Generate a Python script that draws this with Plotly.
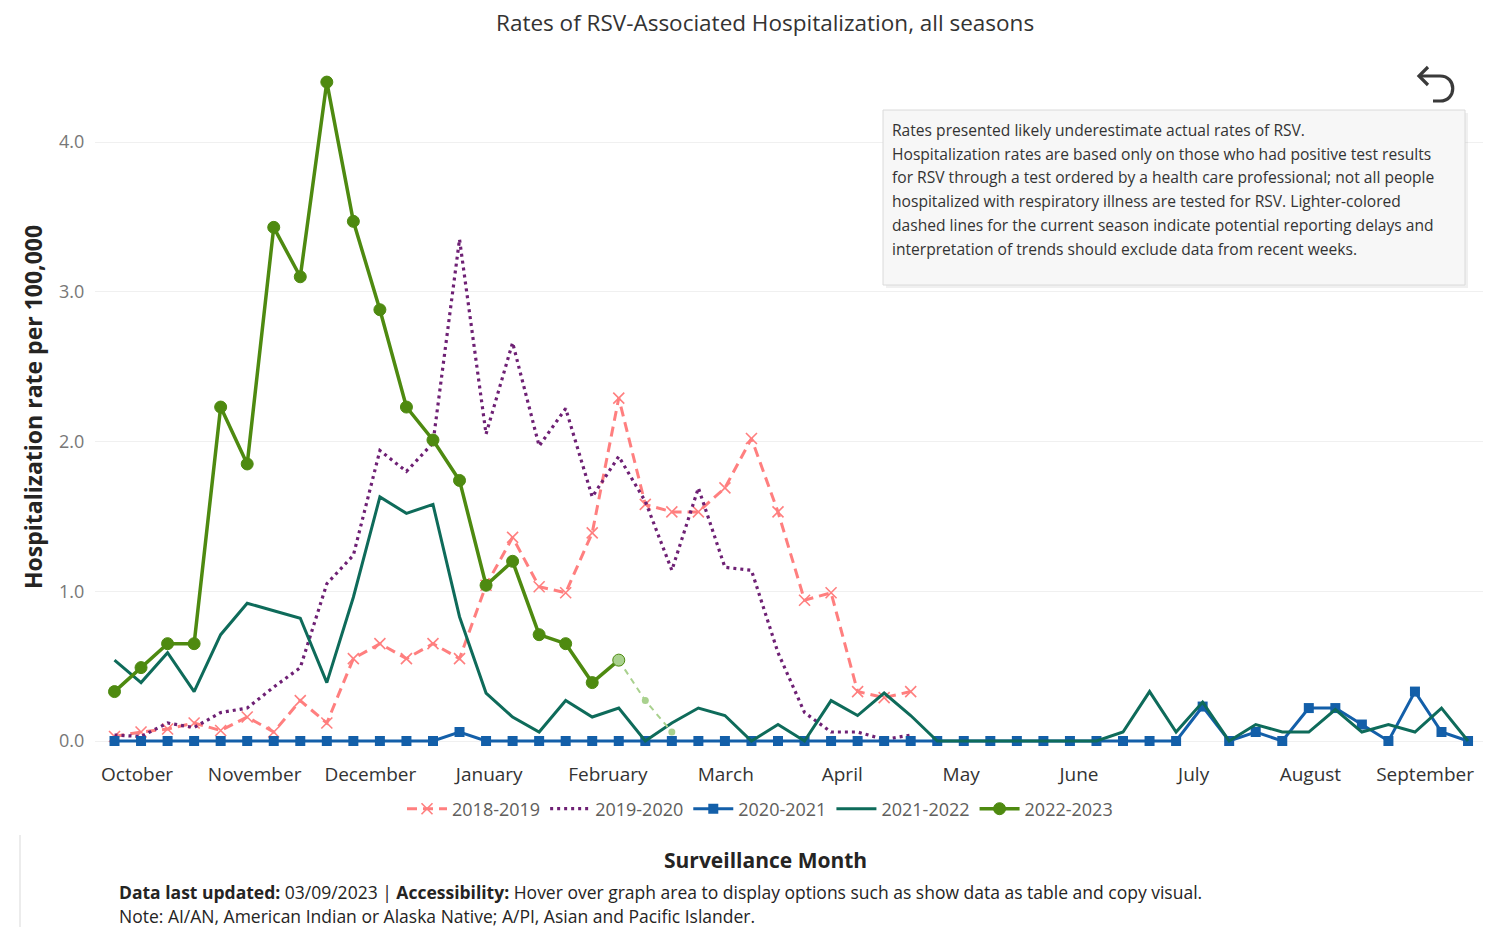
import plotly.graph_objects as go

# ---------------- data ----------------
weeks = list(range(52))
month_labels = ["October", "November", "December", "January", "February", "March",
                "April", "May", "June", "July", "August", "September"]
month_tick_week = [0.85, 5.28, 9.64, 14.12, 18.59, 23.03, 27.42, 31.9, 36.34, 40.66, 45.06, 49.38]
y_ticks = [0, 1, 2, 3, 4]
y_tick_labels = ["0.0", "1.0", "2.0", "3.0", "4.0"]

rate_2018_2019 = [0.03, 0.06, 0.08, 0.12, 0.07, 0.16, 0.06, 0.27, 0.12, 0.55,
                  0.65, 0.55, 0.65, 0.55, 1.04, 1.36, 1.03, 0.99, 1.39, 2.29,
                  1.58, 1.53, 1.53, 1.69, 2.02, 1.53, 0.94, 0.99, 0.33, 0.29,
                  0.33]
rate_2019_2020 = [0.04, 0.03, 0.12, 0.09, 0.19, 0.22, 0.36, 0.49, 1.05, 1.24,
                  1.94, 1.80, 1.99, 3.35, 2.05, 2.66, 1.97, 2.22, 1.63, 1.90,
                  1.60, 1.14, 1.69, 1.16, 1.14, 0.59, 0.19, 0.06, 0.06, 0.01,
                  0.04]
rate_2020_2021 = [0, 0, 0, 0, 0, 0, 0, 0, 0, 0,
                  0, 0, 0, 0.06, 0, 0, 0, 0, 0, 0,
                  0, 0, 0, 0, 0, 0, 0, 0, 0, 0,
                  0, 0, 0, 0, 0, 0, 0, 0, 0, 0,
                  0, 0.23, 0, 0.06, 0, 0.22, 0.22, 0.11, 0, 0.33,
                  0.06, 0]
rate_2021_2022 = [0.54, 0.39, 0.59, 0.33, 0.71, 0.92, 0.87, 0.82, 0.39, 0.96,
                  1.63, 1.52, 1.58, 0.83, 0.32, 0.16, 0.06, 0.27, 0.16, 0.22,
                  0.00, 0.12, 0.22, 0.17, 0.00, 0.11, 0.00, 0.27, 0.17, 0.32,
                  0.17, 0.00, 0.00, 0.00, 0.00, 0.00, 0.00, 0.00, 0.06, 0.33,
                  0.06, 0.26, 0.00, 0.11, 0.06, 0.06, 0.21, 0.06, 0.11, 0.06,
                  0.22, 0.00]
rate_2022_2023 = [0.33, 0.49, 0.65, 0.65, 2.23, 1.85, 3.43, 3.10, 4.40, 3.47,
                  2.88, 2.23, 2.01, 1.74, 1.04, 1.20, 0.71, 0.65, 0.39, 0.54]
# preliminary (reporting delay) weeks of the current season, starting at week 19
prelim_start_week = 19
rate_2022_2023_prelim = [0.54, 0.27, 0.06]

# ---------------- styling ----------------
FONT = "Open Sans"
C_1819 = "#FF7F7F"
C_1920 = "#6E2074"
C_2021 = "#135FA9"
C_2122 = "#0E6B5A"
C_2223 = "#4E8A10"
C_2223_LIGHT = "#A9D18E"

OFF = 8  # page body margin
W, H = 1491 - OFF, 927 - OFF
ML, MT = 95 - OFF, 52 - OFF
MR = W - (1489 - OFF)
MB = H - (750 - OFF)
PW, PH = W - ML - MR, H - MT - MB


def px(x):
    return (x - OFF - ML) / PW


def py(y):
    return (H - MB - (y - OFF)) / PH


fig = go.Figure()

fig.add_trace(go.Scatter(
    x=weeks[:len(rate_2018_2019)], y=rate_2018_2019, name="2018-2019",
    mode="lines+markers",
    line=dict(color=C_1819, width=3, dash="10px,6px"),
    marker=dict(symbol="x-thin-open", size=11, color=C_1819, line=dict(color=C_1819, width=1.6)),
))
fig.add_trace(go.Scatter(
    x=weeks[:len(rate_2019_2020)], y=rate_2019_2020, name="2019-2020",
    mode="lines",
    line=dict(color=C_1920, width=3.2, dash="3px,4px"),
))
fig.add_trace(go.Scatter(
    x=weeks, y=rate_2020_2021, name="2020-2021",
    mode="lines+markers",
    line=dict(color=C_2021, width=3),
    marker=dict(symbol="square", size=10, color=C_2021),
))
fig.add_trace(go.Scatter(
    x=weeks, y=rate_2021_2022, name="2021-2022",
    mode="lines",
    line=dict(color=C_2122, width=3),
))
prelim_weeks = weeks[prelim_start_week:prelim_start_week + len(rate_2022_2023_prelim)]
fig.add_trace(go.Scatter(
    x=prelim_weeks, y=rate_2022_2023_prelim, name="2022-2023 (preliminary)",
    mode="lines+markers", showlegend=False,
    line=dict(color=C_2223_LIGHT, width=2, dash="6px,5px"),
    marker=dict(symbol="circle", size=7, color=C_2223_LIGHT),
))
marker_colors = [C_2223] * (len(rate_2022_2023) - 1) + [C_2223_LIGHT]
fig.add_trace(go.Scatter(
    x=weeks[:len(rate_2022_2023)], y=rate_2022_2023, name="2022-2023",
    mode="lines+markers",
    line=dict(color=C_2223, width=3.5),
    marker=dict(symbol="circle", size=12, color=marker_colors, line=dict(color=C_2223, width=1)),
))

shapes = []
# note box (shadow + box)
shapes.append(dict(type="rect", xref="paper", yref="paper",
                   x0=px(886), x1=px(1468), y0=py(113), y1=py(288),
                   fillcolor="rgba(0,0,0,0.06)", line=dict(width=0), layer="above"))
shapes.append(dict(type="rect", xref="paper", yref="paper",
                   x0=px(883), x1=px(1465), y0=py(110), y1=py(285),
                   fillcolor="#F7F7F7", line=dict(color="#DADADA", width=1), layer="above"))


def P(x, y):
    return f"{px(x):.5f},{py(y):.5f}"


# undo icon
icon_path = f"M {P(1420, 76)} L {P(1440, 76)} C {P(1457, 76)} {P(1457, 101)} {P(1440, 101)} L {P(1433, 101)}"
shapes.append(dict(type="path", xref="paper", yref="paper", path=icon_path,
                   line=dict(color="#3A3A3A", width=3.2)))
arrow_path = f"M {P(1428, 67)} L {P(1419, 76)} L {P(1428, 85)}"
shapes.append(dict(type="path", xref="paper", yref="paper", path=arrow_path,
                   line=dict(color="#3A3A3A", width=3.2)))
# faint panel edge
shapes.append(dict(type="line", xref="paper", yref="paper",
                   x0=px(20), x1=px(20), y0=py(835), y1=py(927),
                   line=dict(color="#ECECEC", width=2)))

annotations = []
note_lines = [
    "Rates presented likely underestimate actual rates of RSV.",
    "Hospitalization rates are based only on those who had positive test results",
    "for RSV through a test ordered by a health care professional; not all people",
    "hospitalized with respiratory illness are tested for RSV. Lighter-colored",
    "dashed lines for the current season indicate potential reporting delays and",
    "interpretation of trends should exclude data from recent weeks.",
]
for k, line in enumerate(note_lines):
    annotations.append(dict(text=line, xref="paper", yref="paper",
                            x=px(890), y=py(130 + 23.7 * k), xanchor="left", yanchor="middle",
                            showarrow=False, font=dict(family=FONT, size=15.6, color="#333333")))

annotations.append(dict(text="<b>Hospitalization rate per 100,000</b>", xref="paper", yref="paper",
                        x=px(33), y=py(407), xanchor="center", yanchor="middle", textangle=-90,
                        showarrow=False, font=dict(family=FONT, size=23, color="#252423")))
annotations.append(dict(text="<b>Surveillance Month</b>", xref="paper", yref="paper",
                        x=px(765), y=py(860), xanchor="center", yanchor="middle",
                        showarrow=False, font=dict(family=FONT, size=21, color="#252423")))
annotations.append(dict(text="<b>Data last updated:</b> 03/09/2023 | <b>Accessibility:</b> Hover over graph area to display options such as show data as table and copy visual.",
                        xref="paper", yref="paper", x=px(117), y=py(892), xanchor="left", yanchor="middle",
                        showarrow=False, font=dict(family=FONT, size=17.5, color="#252423")))
annotations.append(dict(text="Note: AI/AN, American Indian or Alaska Native; A/PI, Asian and Pacific Islander.",
                        xref="paper", yref="paper", x=px(117), y=py(916), xanchor="left", yanchor="middle",
                        showarrow=False, font=dict(family=FONT, size=17.5, color="#252423")))
# chart title
annotations.append(dict(text="Rates of RSV-Associated Hospitalization, all seasons",
                        xref="paper", yref="paper", x=px(765), y=py(23), xanchor="center", yanchor="middle",
                        borderpad=0, showarrow=False, font=dict(family=FONT, size=22.5, color="#333333")))

x_unit = 26.54
x_r0 = -(114.5 - 95) / x_unit
y_unit = 149.75
y_r0 = -(750 - 741) / y_unit

fig.update_layout(
    width=W, height=H,
    margin=dict(l=ML, r=MR, t=MT, b=MB),
    paper_bgcolor="white", plot_bgcolor="white",
    font=dict(family=FONT),
    xaxis=dict(range=[x_r0, x_r0 + PW / x_unit], tickvals=month_tick_week, ticktext=month_labels,
               showgrid=False, zeroline=False, showline=False,
               ticks="outside", ticklen=7, tickcolor="rgba(0,0,0,0)",
               tickfont=dict(family=FONT, size=19, color="#333333")),
    yaxis=dict(range=[y_r0, y_r0 + PH / y_unit], tickvals=y_ticks, ticktext=y_tick_labels,
               showgrid=True, gridcolor="#F0F0F0", gridwidth=1, zeroline=False, showline=False,
               ticks="outside", ticklen=6, tickcolor="rgba(0,0,0,0)",
               tickfont=dict(family=FONT, size=18, color="#777777")),
    legend=dict(orientation="h", x=px(760), xanchor="center", y=py(809), yanchor="middle",
                font=dict(family=FONT, size=18, color="#605E5C"), itemwidth=40,
                bgcolor="rgba(0,0,0,0)", traceorder="normal"),
    shapes=shapes,
    annotations=annotations,
    hovermode="x",
)

fig.write_html("out.html")
